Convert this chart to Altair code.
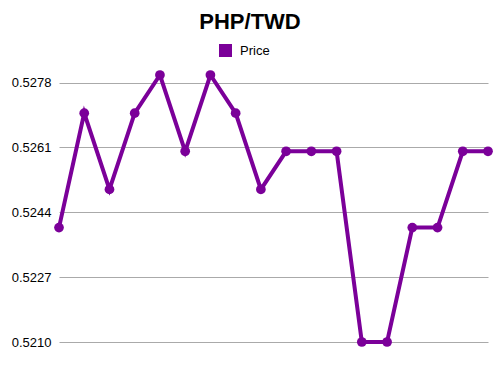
import altair as alt
import pandas as pd

idx = list(range(18))
prices = [0.5240, 0.5270, 0.5250, 0.5270, 0.5280, 0.5260, 0.5280, 0.5270, 0.5250,
          0.5260, 0.5260, 0.5260, 0.5210, 0.5210, 0.5240, 0.5240, 0.5260, 0.5260]
series = ["Price"] * len(idx)
tick_values = [0.5210, 0.5227, 0.5244, 0.5261, 0.5278]

df = pd.DataFrame({"i": idx, "price": prices, "series": series})

FONT = "Liberation Sans"
PURPLE = "#7B0099"

x = alt.X("i:Q", scale=alt.Scale(domain=[0, 17], nice=False, zero=False), axis=None)
y = alt.Y("price:Q",
          scale=alt.Scale(domain=[0.5210, 0.5280], nice=False, zero=False),
          axis=alt.Axis(values=tick_values, format=".4f", title=None, domain=False,
                        ticks=False, grid=True, gridColor="#aaaaaa", gridWidth=1,
                        labelFont=FONT, labelFontSize=13, labelColor="#000000",
                        labelPadding=8))
color = alt.Color("series:N", scale=alt.Scale(range=[PURPLE]),
                  legend=alt.Legend(title=None, orient="none", legendX=160, legendY=-31,
                                    symbolType="square", symbolSize=169,
                                    symbolStrokeWidth=0, padding=0,
                                    labelFont=FONT, labelFontSize=13, labelColor="#000000",
                                    labelOffset=8))

base = alt.Chart(df)
line = base.mark_line(strokeWidth=4).encode(x=x, y=y, color=color)
pts = base.mark_point(filled=True, size=95, opacity=1).encode(x=x, y=y, color=color)

chart = (line + pts).properties(
    width=429, height=267,
    title=alt.TitleParams("PHP/TWD", font=FONT, fontSize=22, fontWeight="bold",
                          color="#000000", anchor="middle", frame="group", dx=-23.5,
                          offset=10),
    padding={"left": 59, "top": 75, "right": 12, "bottom": 33},
    autosize=alt.AutoSizeParams(type="none"),
).configure_view(stroke=None)

chart.save("out.html", embed_options={"renderer": "svg", "actions": False})
